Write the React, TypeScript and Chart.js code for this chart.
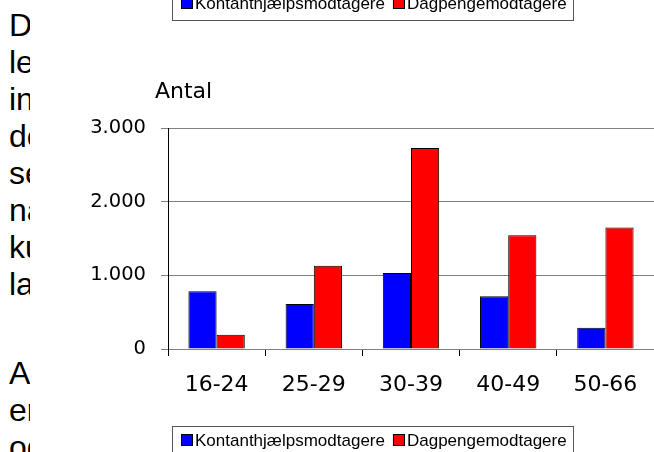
import React, { useEffect, useRef } from "react";
import { Chart, registerables } from "chart.js";

Chart.register(...registerables);

const categories = ["16-24", "25-29", "30-39", "40-49", "50-66"];
const kontanthjaelp = [785, 612, 1030, 715, 290];
const dagpenge = [195, 1130, 2730, 1545, 1650];
const seriesNames = ["Kontanthjælpsmodtagere", "Dagpengemodtagere"];
const seriesColors = ["#0000FF", "#FF0000"];
const yTickValues = [0, 1000, 2000, 3000];
const yTickLabels = ["0", "1.000", "2.000", "3.000"];
const axisTitle = "Antal";
const sideParagraph1 = ["De", "le", "in", "de", "se", "na", "ku", "la"];
const sideParagraph2 = ["Al", "er", "og"];

const boxedLegendPlugin = {
  id: "boxedLegend",
  afterDraw(chart: any, _args: any, opts: any) {
    const ctx = chart.ctx as CanvasRenderingContext2D;
    ctx.save();
    ctx.font = "17px 'Liberation Sans'";
    ctx.textBaseline = "alphabetic";
    ctx.textAlign = "left";
    const items = chart.data.datasets.map((d: any) => ({ label: d.label, color: d.backgroundColor }));
    const widths = items.map((it: any) => ctx.measureText(it.label).width);
    let w = 9;
    items.forEach((_it: any, k: number) => {
      w += 14 + widths[k];
      if (k < items.length - 1) w += 8;
    });
    w += 6;
    for (const pos of opts.positions) {
      ctx.lineWidth = 1;
      ctx.strokeStyle = "#555555";
      ctx.strokeRect(Math.round(pos.x) + 0.5, Math.round(pos.y) + 0.5, Math.round(w), 31);
      let x = pos.x + 9;
      items.forEach((it: any, k: number) => {
        ctx.fillStyle = it.color;
        ctx.fillRect(x, pos.y + 8, 12, 12);
        ctx.strokeStyle = "#000000";
        ctx.strokeRect(x + 0.5, pos.y + 8.5, 11, 11);
        x += 14;
        ctx.fillStyle = "#000000";
        ctx.fillText(it.label, x, pos.y + 20);
        x += widths[k] + 8;
      });
    }
    ctx.restore();
  },
};

const axisTitlePlugin = {
  id: "axisTitleText",
  afterDraw(chart: any, _args: any, opts: any) {
    const ctx = chart.ctx as CanvasRenderingContext2D;
    const area = chart.chartArea;
    ctx.save();
    ctx.font = "22px 'DejaVu Sans'";
    ctx.fillStyle = "#000000";
    ctx.textAlign = "left";
    ctx.textBaseline = "alphabetic";
    ctx.fillText(opts.text, area.left - 13, area.top - 30.5);
    ctx.restore();
  },
};

export default function App() {
  const canvasRef = useRef<HTMLCanvasElement | null>(null);

  useEffect(() => {
    if (!canvasRef.current) return;
    const chart = new Chart(canvasRef.current, {
      type: "bar",
      data: {
        labels: categories,
        datasets: [
          {
            label: seriesNames[0],
            data: kontanthjaelp,
            backgroundColor: seriesColors[0],
            borderColor: "#000000",
            borderWidth: 1,
            categoryPercentage: 0.58,
            barPercentage: 1.0,
          },
          {
            label: seriesNames[1],
            data: dagpenge,
            backgroundColor: seriesColors[1],
            borderColor: "#000000",
            borderWidth: 1,
            categoryPercentage: 0.58,
            barPercentage: 1.0,
          },
        ],
      },
      options: {
        animation: false,
        responsive: false,
        devicePixelRatio: 1,
        layout: { padding: { top: 128, right: 0, bottom: 0, left: 0 } },
        plugins: {
          legend: { display: false },
          tooltip: { enabled: false },
          title: { display: false },
          boxedLegend: { positions: [{ x: 172, y: -11 }, { x: 172, y: 426 }] },
          axisTitleText: { text: axisTitle },
        } as any,
        scales: {
          x: {
            grid: { offset: true, drawOnChartArea: false, drawTicks: true, tickLength: 7, color: "#000000" },
            border: { color: "#808080", width: 1 },
            ticks: { font: { family: "'DejaVu Sans'", size: 22 }, color: "#000000", padding: 16, maxRotation: 0 },
            afterFit: (s: any) => {
              s.height = 103;
            },
          },
          y: {
            min: 0,
            max: 3000,
            afterBuildTicks: (s: any) => {
              s.ticks = yTickValues.map((v) => ({ value: v }));
            },
            ticks: {
              callback: (v: any) => yTickLabels[yTickValues.indexOf(Number(v))],
              font: { family: "'DejaVu Sans'", size: 19.5 },
              color: "#000000",
              padding: 15,
            },
            grid: { color: "#808080", tickLength: 7, lineWidth: 1 },
            border: { color: "#000000", width: 1 },
            afterFit: (s: any) => {
              s.width = 168;
            },
          },
        },
      },
      plugins: [boxedLegendPlugin, axisTitlePlugin],
    } as any);
    return () => chart.destroy();
  }, []);

  const textStyle: React.CSSProperties = {
    position: "absolute",
    left: 9,
    width: 21,
    overflow: "hidden",
    whiteSpace: "nowrap",
    fontFamily: "'Liberation Sans', Arial, sans-serif",
    fontSize: 32,
    lineHeight: "37px",
    color: "#000",
  };

  return (
    <div style={{ position: "fixed", left: 0, top: 0, width: 654, height: 452, background: "#fff", overflow: "hidden" }}>
      <div style={{ ...textStyle, top: 7 }}>
        {sideParagraph1.map((t, i) => (
          <div key={i}>{t}</div>
        ))}
      </div>
      <div style={{ ...textStyle, top: 355 }}>
        {sideParagraph2.map((t, i) => (
          <div key={i}>{t}</div>
        ))}
      </div>
      <canvas ref={canvasRef} width={654} height={452} style={{ position: "absolute", left: 0, top: 0, display: "block" }} />
    </div>
  );
}
